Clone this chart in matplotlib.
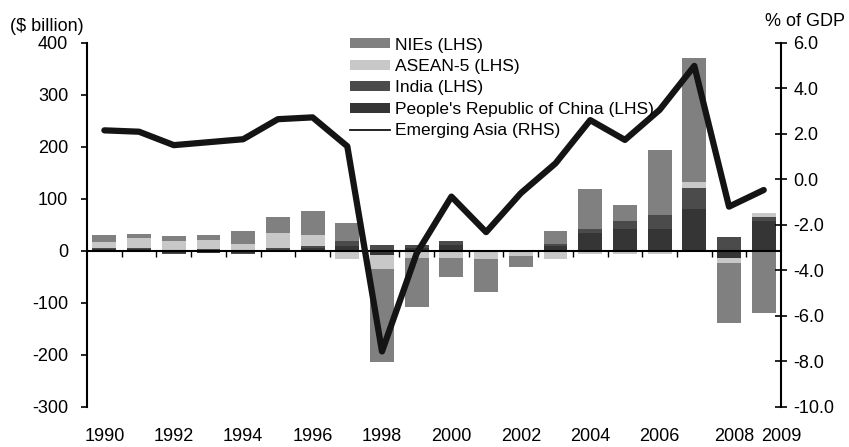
#!/usr/bin/env python3
"""
Emerging Asia capital flows: stacked bars by sub-region (LHS, $ billion)
plus the aggregate as % of GDP (RHS).
"""

import numpy as np
import matplotlib
matplotlib.use( "Agg" )
import matplotlib.pyplot as plt
from matplotlib.lines import Line2D
from matplotlib.transforms import ScaledTranslation

# ── Data ────────────────────────────────────────────────────────────────────
YEARS = list( range( 1990, 2010 ) )

PRC = [ 3, 3, -4, -5, -4, 2, 5, 9, -8, 5, 11, 2, -2, 10, 34, 42, 42, 80, -13, 57 ]
INDIA = [ 2, 2, -2, 3, -2, 3, 4, 9, 11, 6, 8, -1, 0, 4, 8, 15, 27, 40, 27, 8 ]
ASEAN5 = [ 12, 20, 19, 18, 13, 29, 21, -15, -27, -14, -14, -15, -8, -15, -6, -6, -6, 12, -10, 8 ]
NIES = [ 14, 8, 10, 10, 25, 31, 46, 36, -179, -93, -36, -63, -21, 24, 77, 31, 124, 239, -115, -119 ]

EMERGING_ASIA = [ 2.15, 2.09, 1.50, 1.63, 1.76, 2.64, 2.72, 1.45, -7.56, -3.25,
                  -0.76, -2.32, -0.61, 0.70, 2.60, 1.73, 3.05, 4.98, -1.20, -0.47 ]

# label every other year, plus the last one
TICK_YEARS = [ y for y in YEARS if y % 2 == 0 ] + [ 2009 ]

# ── Style ───────────────────────────────────────────────────────────────────
FONT = "Liberation Sans"
FS = 13
C_NIES = "#808080"
C_ASEAN = "#c8c8c8"
C_INDIA = "#4b4b4b"
C_PRC = "#353535"
C_LINE = "#141414"

plt.rcParams[ "font.family" ] = [ FONT, "DejaVu Sans" ]
plt.rcParams[ "font.size" ] = FS
plt.rcParams[ "axes.unicode_minus" ] = False


def stacked_bars( ax, x, series, width ):
    """Stacks positives upward and negatives downward from zero."""
    pos = np.zeros( len( x ) )
    neg = np.zeros( len( x ) )
    handles = []
    for label, values, color in series:
        v = np.asarray( values, dtype = float )
        bottom = np.where( v >= 0, pos, neg )
        h = ax.bar( x, v, width = width, bottom = bottom, color = color,
                    edgecolor = "none", label = label, zorder = 1 )
        pos = pos + np.clip( v, 0, None )
        neg = neg + np.clip( v, None, 0 )
        handles.append( h )
    return handles


def main():
    fig = plt.figure( figsize = (8.49, 4.47), dpi = 100 )
    fig.patch.set_facecolor( "white" )
    ax = fig.add_axes( [ 0.1025, 0.0895, 0.8175, 0.815 ] )

    x = np.arange( len( YEARS ) )

    h_prc, h_ind, h_asean, h_nies = stacked_bars( ax, x, [
        ("People's Republic of China (LHS)", PRC, C_PRC),
        ("India (LHS)", INDIA, C_INDIA),
        ("ASEAN-5 (LHS)", ASEAN5, C_ASEAN),
        ("NIEs (LHS)", NIES, C_NIES),
    ], width = 0.69 )

    # left axis
    ax.set_xlim( -0.5, len( YEARS ) - 0.5 )
    ax.set_ylim( -300, 400 )
    ax.set_yticks( range( -300, 401, 100 ) )
    ax.spines[ "top" ].set_visible( False )
    ax.spines[ "right" ].set_visible( False )
    ax.spines[ "left" ].set_linewidth( 1.5 )
    ax.spines[ "bottom" ].set_position( ("data", 0) )
    ax.spines[ "bottom" ].set_linewidth( 1.5 )
    ax.spines[ "bottom" ].set_zorder( 3 )
    ax.tick_params( axis = "y", direction = "out", length = 4.5, width = 1.2,
                    pad = 9, labelsize = FS )

    # small ticks between categories on the zero line
    ax.set_xticks( x[ :-1 ] + 0.5 )
    ax.tick_params( axis = "x", direction = "out", length = 4, width = 1.0,
                    labelbottom = False )

    # year labels along the bottom
    sec = ax.secondary_xaxis( "bottom" )
    sec.set_xticks( [ YEARS.index( y ) for y in TICK_YEARS ] )
    sec.set_xticklabels( [ str( y ) for y in TICK_YEARS ] )
    sec.spines[ "bottom" ].set_visible( False )
    sec.tick_params( length = 0, pad = 15, labelsize = FS )
    labels = sec.get_xticklabels()
    for lbl, dx in ((labels[ -2 ], 4), (labels[ -1 ], 13)):
        lbl.set_transform( lbl.get_transform() +
                           ScaledTranslation( dx / 72, 0, fig.dpi_scale_trans ) )

    # right axis
    ax2 = ax.twinx()
    ax2.plot( x, EMERGING_ASIA, color = C_LINE, linewidth = 4.5,
              solid_capstyle = "round", solid_joinstyle = "round", zorder = 4 )
    ax2.set_ylim( -10, 6 )
    ax2.set_yticks( np.arange( -10, 6.1, 2 ) )
    ax2.set_yticklabels( [ f"{v:.1f}" for v in np.arange( -10, 6.1, 2 ) ] )
    for side in ("top", "left", "bottom"):
        ax2.spines[ side ].set_visible( False )
    ax2.spines[ "right" ].set_linewidth( 1.5 )
    ax2.tick_params( axis = "y", direction = "inout", length = 8, width = 1.2,
                     pad = 5, labelsize = FS )

    # axis captions
    fig.text( 0.012, 0.94, "($ billion)", ha = "left", va = "center", fontsize = FS )
    fig.text( 0.995, 0.952, "% of GDP", ha = "right", va = "center", fontsize = FS )

    # legend with a thin line handle
    line_handle = Line2D( [], [], color = C_LINE, linewidth = 1.3 )
    fig.legend(
        [ h_nies, h_asean, h_ind, h_prc, line_handle ],
        [ "NIEs (LHS)", "ASEAN-5 (LHS)", "India (LHS)",
          "People's Republic of China (LHS)", "Emerging Asia (RHS)" ],
        loc = "upper left", bbox_to_anchor = (0.412, 0.916),
        frameon = False, fontsize = FS - 0.5, borderpad = 0, borderaxespad = 0,
        handlelength = 2.3, handleheight = 0.5, handletextpad = 0.3,
        labelspacing = 0.37,
    )

    fig.savefig( "out.png", dpi = 100, facecolor = "white" )
    plt.close( fig )


if __name__ == "__main__":
    main()
